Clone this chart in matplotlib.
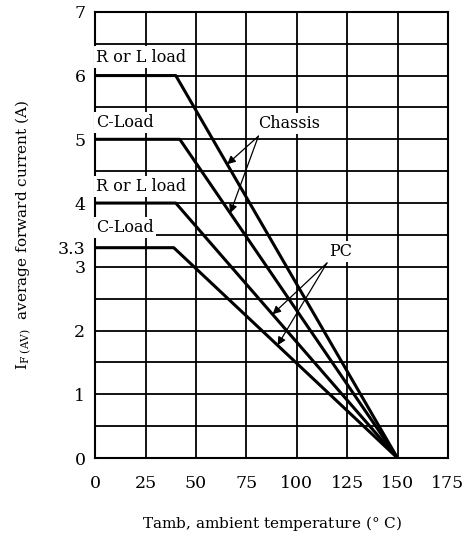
import numpy as np
import matplotlib.pyplot as plt

plt.rcParams['font.family'] = 'DejaVu Serif'
plt.rcParams['mathtext.fontset'] = 'dejavuserif'

# derating curves (Tamb in deg C, IF(AV) in A)
chassis_rl_t = [0, 40, 150]
chassis_rl_i = [6.0, 6.0, 0.0]
chassis_c_t = [0, 42, 150]
chassis_c_i = [5.0, 5.0, 0.0]
pc_rl_t = [0, 40, 150]
pc_rl_i = [4.0, 4.0, 0.0]
pc_c_t = [0, 39, 150]
pc_c_i = [3.3, 3.3, 0.0]

curves = [(chassis_rl_t, chassis_rl_i), (chassis_c_t, chassis_c_i),
          (pc_rl_t, pc_rl_i), (pc_c_t, pc_c_i)]
curve_labels = ['R or L load', 'C-Load', 'R or L load', 'C-Load']
label_y = [6.29, 5.27, 4.26, 3.62]

x_ticks = [0, 25, 50, 75, 100, 125, 150, 175]
y_ticks = [0, 1, 2, 3, 3.3, 4, 5, 6, 7]
y_tick_labels = ['0', '1', '2', '3', '3.3', '4', '5', '6', '7']
y_grid = np.arange(0, 7.01, 0.5)

fig = plt.figure(figsize=(4.71, 5.37), dpi=100)
ax = fig.add_axes([0.202, 0.147, 0.749, 0.831])

for t, i in curves:
    ax.plot(t, i, color='black', lw=2.2, solid_capstyle='butt', zorder=3)

for x in x_ticks:
    ax.axvline(x, color='black', lw=1.3, zorder=1)
for y in y_grid:
    ax.axhline(y, color='black', lw=1.3, zorder=1)

ax.set_xlim(0, 175)
ax.set_ylim(0, 7)
ax.set_xticks(x_ticks)
ax.set_yticks(y_ticks)
ax.set_yticklabels(y_tick_labels)
ax.tick_params(axis='x', length=0, labelsize=12.5, pad=12)
ax.tick_params(axis='y', length=0, labelsize=12.5, pad=7)
for s in ax.spines.values():
    s.set_linewidth(1.5)

for lab, y in zip(curve_labels, label_y):
    ax.text(0.5, y, lab, fontsize=11.5, va='center', ha='left', zorder=4,
            bbox=dict(facecolor='white', edgecolor='none', pad=1.5))


def on_curve(t, i, x):
    return float(np.interp(x, t, i))


ax.text(96, 5.25, 'Chassis', fontsize=11.5, ha='center', va='center', zorder=4,
        bbox=dict(facecolor='white', edgecolor='none', pad=1.5))
for (t, i), x in [(curves[0], 65.5), (curves[1], 67.0)]:
    ax.annotate('', xy=(x, on_curve(t, i, x)), xytext=(81, 5.05),
                arrowprops=dict(arrowstyle='-|>', color='black', lw=0.9,
                                mutation_scale=12, shrinkA=0, shrinkB=0),
                zorder=5)

ax.text(122, 3.24, 'PC', fontsize=11.5, ha='center', va='center', zorder=4,
        bbox=dict(facecolor='white', edgecolor='none', pad=1.5))
for (t, i), x in [(curves[2], 88.0), (curves[3], 90.5)]:
    ax.annotate('', xy=(x, on_curve(t, i, x)), xytext=(115, 3.06),
                arrowprops=dict(arrowstyle='-|>', color='black', lw=0.9,
                                mutation_scale=12, shrinkA=0, shrinkB=0),
                zorder=5)

ax.set_xlabel('Tamb, ambient temperature ($\\degree$ C)', fontsize=11, labelpad=16)
ax.set_ylabel('I$_{\\mathrm{F\\ (AV)}}$  average forward current (A)', fontsize=11,
              labelpad=18)

fig.savefig('out.png', dpi=100)
